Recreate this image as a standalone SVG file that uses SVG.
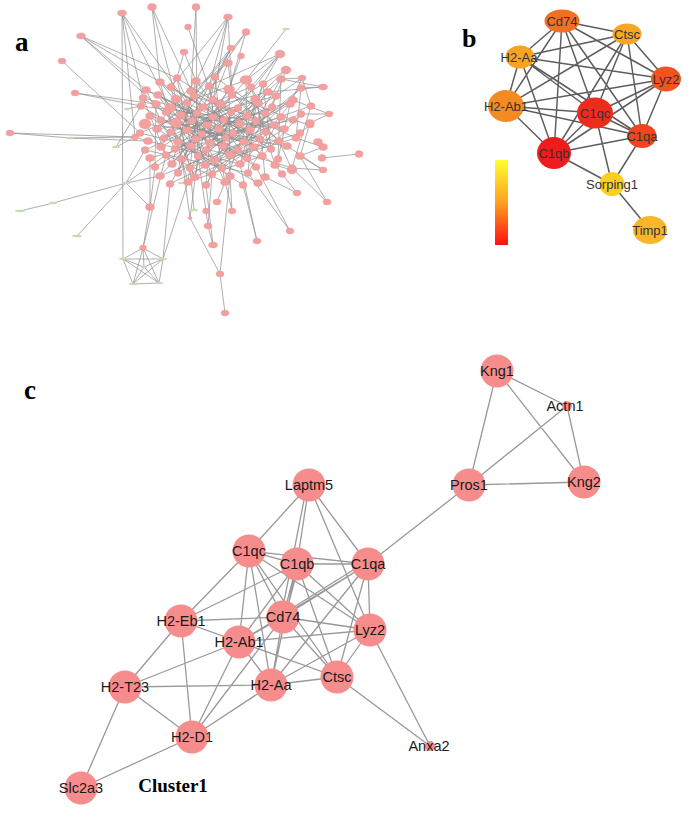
<svg xmlns="http://www.w3.org/2000/svg" width="690" height="818" viewBox="0 0 690 818">
<style>
.pl{font-family:"Liberation Serif","Times New Roman",serif;font-weight:bold;fill:#000}
.ae{fill:none;stroke:#8c8c8c;stroke-width:0.7}
.an{fill:#f3a0a0;stroke:#e88;stroke-width:0.3}
.ag{fill:#bfe0b0}
.be{fill:none;stroke:#5e5e5e;stroke-width:1.5}
.bt{font-family:"Liberation Sans",Arial,sans-serif;font-size:13px;fill:#333;text-anchor:middle}
.ce{fill:none;stroke:#999;stroke-width:1.3}
.cn{fill:#f78c8c}
.ct{font-family:"Liberation Sans",Arial,sans-serif;font-size:14.5px;fill:#1a1a1a;text-anchor:middle}
</style>
<defs>
<linearGradient id="bar" x1="0" y1="0" x2="0" y2="1">
<stop offset="0" stop-color="#ffff30"/>
<stop offset="0.5" stop-color="#ffa020"/>
<stop offset="1" stop-color="#ff1010"/>
</linearGradient>
</defs>
<rect width="690" height="818" fill="#fff"/>

<text class="pl" x="15" y="51" font-size="27">a</text>
<text class="pl" x="462" y="47" font-size="26">b</text>
<text class="pl" x="24" y="399" font-size="27">c</text>

<!-- Panel a -->
<g id="panel-a">
<g id="a-edges">
<path class="ae" d="M160 82L192 121M160 82L226 138M160 82L203 107M177 78L202 134M177 78L191 146M177 78L231 112M196 81L198 156M196 81L244 142M196 81L161 120M196 81L172 164M215 77L171 132M215 77L223 146M215 77L265 113M215 77L195 177M246 80L196 139M246 80L247 158M246 80L274 125M246 80L170 108M263 84L187 130M263 84L240 164M263 84L271 149M281 79L210 143M281 79L256 121M281 79L278 159M146 90L233 133M146 90L197 113M146 90L175 149M171 87L260 139M171 87L190 168M171 87L224 120M191 91L254 147M191 91L178 173M191 91L266 132M209 86L178 142M209 86L222 168M209 86L293 120M209 86L157 129M229 89L182 159M229 89L279 141M229 89L230 176M251 87L206 150M251 87L140 133M251 87L275 165M268 92L226 138M268 92L214 160M268 92L181 115M301 88L250 130M301 88L238 150M301 88L296 138M143 98L210 143M143 98L166 155M143 98L240 124M158 95L223 146M158 95L205 165M158 95L219 129M176 99L244 142M176 99L230 155M176 99L212 174M194 96L161 147M194 96L256 167M194 96L284 129M213 100L164 138M213 100L262 156M213 100L206 185M232 95L175 149M232 95L172 164M232 95L279 141M255 99L171 132M255 99L198 156M255 99L248 173M276 96L191 146M276 96L240 164M276 96L176 123M293 100L226 138M293 100L247 158M293 100L202 134M141 106L256 121M141 106L196 139M156 104L238 150M156 104L155 167M170 108L214 160M170 108L250 130M187 103L205 165M187 103L260 139M203 107L271 149M203 107L178 173M221 104L182 159M221 104L296 138M238 108L190 168M238 108L145 150M258 103L166 155M258 103L265 177M272 107L178 142M272 107L222 168M290 104L206 150M290 104L278 159M311 106L233 133M311 106L292 168M150 116L244 142M150 116L198 156M166 112L254 147M166 112L195 177M181 115L240 164M181 115L284 129M197 113L230 155M197 113L188 182M213 117L161 147M213 117L275 165M231 112L164 138M231 112L212 174M247 116L182 159M247 116L287 146M265 113L157 129M265 113L205 165M281 117L210 143M281 117L248 173M301 114L223 146M301 114L262 156M145 124L279 141M145 124L172 164M161 120L247 158M176 123L271 149M192 121L256 167M207 125L160 176M224 120L166 155M240 124L190 168M256 121L175 149M274 125L214 160M293 120L196 139M310 123L300 156M140 133L230 155M157 129L222 168M171 132L230 176M187 130L287 146M202 134L225 182M219 129L155 167M233 133L178 173M250 130L150 158M266 132L190 168M284 129L212 174M300 133L230 155M148 141L240 164M178 142L243 185M210 143L292 168M244 142L160 176M260 139L170 184M296 138L205 165M145 150L248 173M191 146L258 183M254 147L195 177M166 155L225 182M262 156L188 182M160 82L188 182M263 84L225 182M229 89L170 184M255 99L206 185M177 78L171 87M191 91L194 96M213 100L221 104M238 108L247 116M265 113L274 125M192 121L187 130M202 134L210 143M226 138L223 146M191 146L198 156M214 160L222 168M190 168L195 177M212 174L206 185"/>
<path class="ae" d="M122 13L143 98M122 13L170 108M122 13L187 103M122 13L135 137M122 13L123 259M152 7L176 99M152 7L194 96M152 7L160 82M196 7L191 91M196 7L197 113M228 17L196 81M228 17L232 95M228 17L209 86M228 17L213 100M228 17L171 87M188 27L213 100M246 32L215 77M246 32L229 89M246 32L194 96M286 29L246 80M81 36L177 78M81 36L160 82M81 36L176 123M81 36L146 90M62 61L140 133M184 52L177 78M184 52L196 81M231 48L203 107M231 48L215 77M231 48L187 103M241 56L229 89M228 63L213 100M228 63L191 91M228 63L232 95M280 54L246 80M280 54L263 84M280 54L238 108M280 54L251 87M280 54L209 86M286 70L263 84M286 70L255 99M286 70L272 107M302 78L281 79M302 78L290 104M302 78L276 96M302 78L311 106M323 87L281 79M323 87L268 92M323 87L301 88M75 93L141 106M75 93L156 104M329 114L310 123M329 114L301 114M329 114L293 100M10 133L70 138M10 133L135 137M70 138L135 137M70 138L148 141M310 125L293 120M310 125L300 133M359 154L322 158M323 147L318 142M323 147L296 138M323 147L300 156M323 170L292 168M323 170L300 156M323 170L287 146M292 170L279 141M292 170L275 165M297 193L275 165M297 193L265 177M327 202L300 156M327 202L292 168M290 231L256 167M290 231L248 173M257 241L243 185M257 241L240 164M213 245L206 185M213 245L208 226M208 226L206 211M208 226L212 174M206 211L198 156M217 202L225 182M232 211L230 176M232 211L222 168M220 274L225 313M220 274L190 218M220 274L230 176M150 207L150 158M150 207L143 248M150 207L155 167M150 207L126 183M126 183L53 203M126 183L160 176M126 183L145 150M126 183L166 155M53 203L20 211M77 236L126 183M143 248L163 259M143 248L123 259M143 248L144 267M143 248L159 283M143 248L133 284M143 248L166 155M123 259L163 259M123 259L144 267M123 259L133 284M123 259L159 283M163 259L144 267M163 259L159 283M163 259L133 284M144 267L133 284M144 267L159 283M133 284L159 283M190 218L182 159M190 218L198 156M194 210L190 168M116 147L141 106M116 147L135 137M127 109L141 106M135 137L148 141M135 137L140 133M170 184L163 259M188 182L163 259"/>
</g>
<g id="a-nodes">
<ellipse class="an" cx="122" cy="13" rx="4.5" ry="3"/><ellipse class="an" cx="152" cy="7" rx="4.5" ry="3.5"/><ellipse class="an" cx="196" cy="7" rx="4" ry="3.5"/><ellipse class="an" cx="228" cy="17" rx="4.5" ry="3"/><ellipse class="an" cx="188" cy="27" rx="3.5" ry="3"/><ellipse class="an" cx="246" cy="32" rx="4" ry="3.5"/><ellipse class="an" cx="81" cy="36" rx="4.5" ry="3"/><ellipse class="an" cx="62" cy="61" rx="4" ry="3"/><ellipse class="an" cx="184" cy="52" rx="4" ry="3"/><ellipse class="an" cx="231" cy="48" rx="4" ry="3"/><ellipse class="an" cx="241" cy="56" rx="3.5" ry="3"/><ellipse class="an" cx="228" cy="63" rx="4.5" ry="3.5"/><ellipse class="an" cx="280" cy="54" rx="5" ry="4"/><ellipse class="an" cx="286" cy="70" rx="5" ry="4"/><ellipse class="an" cx="302" cy="78" rx="4" ry="3"/><ellipse class="an" cx="323" cy="87" rx="4.5" ry="3"/><ellipse class="an" cx="75" cy="93" rx="4" ry="3"/><ellipse class="an" cx="329" cy="114" rx="4" ry="3"/><ellipse class="an" cx="10" cy="133" rx="4" ry="3"/><ellipse class="an" cx="310" cy="125" rx="4" ry="3"/><ellipse class="an" cx="359" cy="154" rx="4" ry="3.5"/><ellipse class="an" cx="323" cy="147" rx="4.5" ry="3.5"/><ellipse class="an" cx="323" cy="170" rx="4" ry="3"/><ellipse class="an" cx="292" cy="170" rx="5" ry="4"/><ellipse class="an" cx="297" cy="193" rx="4" ry="3"/><ellipse class="an" cx="327" cy="202" rx="4" ry="3"/><ellipse class="an" cx="290" cy="231" rx="4" ry="3"/><ellipse class="an" cx="257" cy="241" rx="4" ry="3"/><ellipse class="an" cx="213" cy="245" rx="4.5" ry="3"/><ellipse class="an" cx="208" cy="226" rx="4" ry="3"/><ellipse class="an" cx="206" cy="211" rx="3.5" ry="3"/><ellipse class="an" cx="217" cy="202" rx="4" ry="3"/><ellipse class="an" cx="232" cy="211" rx="4" ry="3"/><ellipse class="an" cx="220" cy="274" rx="4" ry="3"/><ellipse class="an" cx="225" cy="313" rx="4" ry="3"/><ellipse class="an" cx="150" cy="207" rx="4.5" ry="3.5"/><ellipse class="an" cx="143" cy="248" rx="3.5" ry="3"/><ellipse class="an" cx="135" cy="137" rx="3.5" ry="3"/><ellipse class="an" cx="190" cy="218" rx="2" ry="1.5"/>
<ellipse class="ag" cx="286" cy="29" rx="4" ry="1.2"/><ellipse class="ag" cx="70" cy="138" rx="4" ry="1.2"/><ellipse class="ag" cx="126" cy="183" rx="4" ry="1.2"/><ellipse class="ag" cx="53" cy="203" rx="4" ry="1.2"/><ellipse class="ag" cx="20" cy="211" rx="5" ry="1.2"/><ellipse class="ag" cx="77" cy="236" rx="5" ry="1.2"/><ellipse class="ag" cx="123" cy="259" rx="4" ry="1.2"/><ellipse class="ag" cx="163" cy="259" rx="4" ry="1.2"/><ellipse class="ag" cx="144" cy="267" rx="3" ry="1.2"/><ellipse class="ag" cx="133" cy="284" rx="4" ry="1.2"/><ellipse class="ag" cx="159" cy="283" rx="4" ry="1.2"/><ellipse class="ag" cx="194" cy="210" rx="4" ry="1.2"/><ellipse class="ag" cx="116" cy="147" rx="4" ry="1.2"/><ellipse class="ag" cx="127" cy="109" rx="3" ry="1.2"/><ellipse class="ag" cx="181" cy="183" rx="3" ry="1.2"/>
<ellipse class="an" cx="160" cy="82" rx="4.5" ry="3.5"/><ellipse class="an" cx="177" cy="78" rx="4" ry="3.5"/><ellipse class="an" cx="196" cy="81" rx="4.5" ry="3.5"/><ellipse class="an" cx="215" cy="77" rx="4" ry="3.5"/><ellipse class="an" cx="246" cy="80" rx="6" ry="4.5"/><ellipse class="an" cx="263" cy="84" rx="4" ry="3.5"/><ellipse class="an" cx="281" cy="79" rx="4.5" ry="3.5"/>
<ellipse class="an" cx="146" cy="90" rx="4.5" ry="3.5"/><ellipse class="an" cx="171" cy="87" rx="4" ry="3.5"/><ellipse class="an" cx="191" cy="91" rx="4.5" ry="3.5"/><ellipse class="an" cx="209" cy="86" rx="4" ry="3.5"/><ellipse class="an" cx="229" cy="89" rx="5.5" ry="4"/><ellipse class="an" cx="251" cy="87" rx="4" ry="3.5"/><ellipse class="an" cx="268" cy="92" rx="4.5" ry="3.5"/><ellipse class="an" cx="301" cy="88" rx="4" ry="3.5"/>
<ellipse class="an" cx="143" cy="98" rx="4" ry="3.5"/><ellipse class="an" cx="158" cy="95" rx="4.5" ry="3.5"/><ellipse class="an" cx="176" cy="99" rx="5" ry="4"/><ellipse class="an" cx="194" cy="96" rx="4" ry="3.5"/><ellipse class="an" cx="213" cy="100" rx="4.5" ry="3.5"/><ellipse class="an" cx="232" cy="95" rx="4" ry="3.5"/><ellipse class="an" cx="255" cy="99" rx="4.5" ry="3.5"/><ellipse class="an" cx="276" cy="96" rx="4" ry="3.5"/><ellipse class="an" cx="293" cy="100" rx="4.5" ry="3.5"/>
<ellipse class="an" cx="141" cy="106" rx="4" ry="3.5"/><ellipse class="an" cx="156" cy="104" rx="4.5" ry="3.5"/><ellipse class="an" cx="170" cy="108" rx="5.5" ry="4.5"/><ellipse class="an" cx="187" cy="103" rx="4" ry="3.5"/><ellipse class="an" cx="203" cy="107" rx="4.5" ry="3.5"/><ellipse class="an" cx="221" cy="104" rx="5" ry="4"/><ellipse class="an" cx="238" cy="108" rx="4" ry="3.5"/><ellipse class="an" cx="258" cy="103" rx="4.5" ry="3.5"/><ellipse class="an" cx="272" cy="107" rx="4" ry="3.5"/><ellipse class="an" cx="290" cy="104" rx="4.5" ry="3.5"/><ellipse class="an" cx="311" cy="106" rx="4" ry="3.5"/>
<ellipse class="an" cx="150" cy="116" rx="4.5" ry="3.5"/><ellipse class="an" cx="166" cy="112" rx="4" ry="3.5"/><ellipse class="an" cx="181" cy="115" rx="4.5" ry="3.5"/><ellipse class="an" cx="197" cy="113" rx="4" ry="3.5"/><ellipse class="an" cx="213" cy="117" rx="4.5" ry="3.5"/><ellipse class="an" cx="231" cy="112" rx="4" ry="3.5"/><ellipse class="an" cx="247" cy="116" rx="4.5" ry="3.5"/><ellipse class="an" cx="265" cy="113" rx="4" ry="3.5"/><ellipse class="an" cx="281" cy="117" rx="4.5" ry="3.5"/><ellipse class="an" cx="301" cy="114" rx="4" ry="3.5"/>
<ellipse class="an" cx="145" cy="124" rx="6" ry="5"/><ellipse class="an" cx="161" cy="120" rx="4" ry="3.5"/><ellipse class="an" cx="176" cy="123" rx="6" ry="5"/><ellipse class="an" cx="192" cy="121" rx="4" ry="3.5"/><ellipse class="an" cx="207" cy="125" rx="4.5" ry="3.5"/><ellipse class="an" cx="224" cy="120" rx="4" ry="3.5"/><ellipse class="an" cx="240" cy="124" rx="4.5" ry="3.5"/><ellipse class="an" cx="256" cy="121" rx="4" ry="3.5"/><ellipse class="an" cx="274" cy="125" rx="4.5" ry="3.5"/><ellipse class="an" cx="293" cy="120" rx="4" ry="3.5"/><ellipse class="an" cx="310" cy="123" rx="4.5" ry="3.5"/>
<ellipse class="an" cx="140" cy="133" rx="4" ry="3.5"/><ellipse class="an" cx="157" cy="129" rx="4.5" ry="3.5"/><ellipse class="an" cx="171" cy="132" rx="4" ry="3.5"/><ellipse class="an" cx="187" cy="130" rx="4.5" ry="3.5"/><ellipse class="an" cx="202" cy="134" rx="4" ry="3.5"/><ellipse class="an" cx="219" cy="129" rx="4.5" ry="3.5"/><ellipse class="an" cx="233" cy="133" rx="4" ry="3.5"/><ellipse class="an" cx="250" cy="130" rx="4.5" ry="3.5"/><ellipse class="an" cx="266" cy="132" rx="4" ry="3.5"/><ellipse class="an" cx="284" cy="129" rx="4.5" ry="3.5"/><ellipse class="an" cx="300" cy="133" rx="4" ry="3.5"/>
<ellipse class="an" cx="148" cy="141" rx="4.5" ry="3.5"/><ellipse class="an" cx="164" cy="138" rx="4" ry="3.5"/><ellipse class="an" cx="178" cy="142" rx="4.5" ry="3.5"/><ellipse class="an" cx="196" cy="139" rx="4" ry="3.5"/><ellipse class="an" cx="210" cy="143" rx="4.5" ry="3.5"/><ellipse class="an" cx="226" cy="138" rx="4" ry="3.5"/><ellipse class="an" cx="244" cy="142" rx="4.5" ry="3.5"/><ellipse class="an" cx="260" cy="139" rx="4" ry="3.5"/><ellipse class="an" cx="279" cy="141" rx="4.5" ry="3.5"/><ellipse class="an" cx="296" cy="138" rx="4" ry="3.5"/><ellipse class="an" cx="318" cy="142" rx="4.5" ry="3.5"/>
<ellipse class="an" cx="145" cy="150" rx="4" ry="3.5"/><ellipse class="an" cx="161" cy="147" rx="4.5" ry="3.5"/><ellipse class="an" cx="175" cy="149" rx="4" ry="3.5"/><ellipse class="an" cx="191" cy="146" rx="4.5" ry="3.5"/><ellipse class="an" cx="206" cy="150" rx="4" ry="3.5"/><ellipse class="an" cx="223" cy="146" rx="4.5" ry="3.5"/><ellipse class="an" cx="238" cy="150" rx="4" ry="3.5"/><ellipse class="an" cx="254" cy="147" rx="4.5" ry="3.5"/><ellipse class="an" cx="271" cy="149" rx="4" ry="3.5"/><ellipse class="an" cx="287" cy="146" rx="4.5" ry="3.5"/>
<ellipse class="an" cx="150" cy="158" rx="4.5" ry="3.5"/><ellipse class="an" cx="166" cy="155" rx="4" ry="3.5"/><ellipse class="an" cx="182" cy="159" rx="4.5" ry="3.5"/><ellipse class="an" cx="198" cy="156" rx="4" ry="3.5"/><ellipse class="an" cx="214" cy="160" rx="4.5" ry="3.5"/><ellipse class="an" cx="230" cy="155" rx="5" ry="4"/><ellipse class="an" cx="247" cy="158" rx="4" ry="3.5"/><ellipse class="an" cx="262" cy="156" rx="4.5" ry="3.5"/><ellipse class="an" cx="278" cy="159" rx="4" ry="3.5"/><ellipse class="an" cx="300" cy="156" rx="4.5" ry="3.5"/><ellipse class="an" cx="322" cy="158" rx="4" ry="3.5"/>
<ellipse class="an" cx="155" cy="167" rx="4" ry="3.5"/><ellipse class="an" cx="172" cy="164" rx="4.5" ry="3.5"/><ellipse class="an" cx="190" cy="168" rx="4" ry="3.5"/><ellipse class="an" cx="205" cy="165" rx="4.5" ry="3.5"/><ellipse class="an" cx="222" cy="168" rx="4" ry="3.5"/><ellipse class="an" cx="240" cy="164" rx="4.5" ry="3.5"/><ellipse class="an" cx="256" cy="167" rx="4" ry="3.5"/><ellipse class="an" cx="275" cy="165" rx="4.5" ry="3.5"/><ellipse class="an" cx="292" cy="168" rx="4" ry="3.5"/>
<ellipse class="an" cx="160" cy="176" rx="4.5" ry="3.5"/><ellipse class="an" cx="178" cy="173" rx="4" ry="3.5"/><ellipse class="an" cx="195" cy="177" rx="4.5" ry="3.5"/><ellipse class="an" cx="212" cy="174" rx="4" ry="3.5"/><ellipse class="an" cx="230" cy="176" rx="4.5" ry="3.5"/><ellipse class="an" cx="248" cy="173" rx="4" ry="3.5"/><ellipse class="an" cx="265" cy="177" rx="4.5" ry="3.5"/><ellipse class="an" cx="282" cy="174" rx="4" ry="3.5"/>
<ellipse class="an" cx="170" cy="184" rx="4" ry="3.5"/><ellipse class="an" cx="188" cy="182" rx="4.5" ry="3.5"/><ellipse class="an" cx="206" cy="185" rx="4" ry="3.5"/><ellipse class="an" cx="225" cy="182" rx="4.5" ry="3.5"/><ellipse class="an" cx="243" cy="185" rx="4" ry="3.5"/><ellipse class="an" cx="258" cy="183" rx="4.5" ry="3.5"/>
</g>
</g>

<!-- Panel b -->
<g id="panel-b">
<rect id="b-colorbar" x="495" y="160" width="13" height="85" fill="url(#bar)"/>
<g id="b-edges">
<path class="be" d="M562 21L627 34M562 21L520 57M562 21L666 79M562 21L506 106M562 21L595 113M562 21L642 136M562 21L554 153M627 34L520 57M627 34L666 79M627 34L506 106M627 34L595 113M627 34L642 136M627 34L554 153M520 57L666 79M520 57L506 106M520 57L595 113M520 57L642 136M520 57L554 153M666 79L506 106M666 79L595 113M666 79L642 136M666 79L554 153M506 106L595 113M506 106L642 136M506 106L554 153M595 113L642 136M595 113L554 153M642 136L554 153M612 184L595 113M612 184L642 136M612 184L554 153M612 184L650 230"/>
</g>
<g id="b-Cd74"><ellipse cx="562" cy="21" rx="17.5" ry="11.5" fill="#f27022"/><text class="bt" x="562" y="25.5">Cd74</text></g>
<g id="b-Ctsc"><ellipse cx="627" cy="34" rx="14.5" ry="10.5" fill="#f8a626"/><text class="bt" x="627" y="38.5">Ctsc</text></g>
<g id="b-H2-Aa"><ellipse cx="520" cy="57" rx="14.5" ry="11.5" fill="#f8a422"/><text class="bt" x="519" y="61.5">H2-Aa</text></g>
<g id="b-Lyz2"><ellipse cx="666" cy="79" rx="15" ry="12.5" fill="#f25420"/><text class="bt" x="666" y="83.5">Lyz2</text></g>
<g id="b-H2-Ab1"><ellipse cx="506" cy="106" rx="18" ry="16" fill="#f38a22"/><text class="bt" x="506" y="110.5">H2-Ab1</text></g>
<g id="b-C1qc"><ellipse cx="595" cy="113" rx="18" ry="15.5" fill="#ef2c1c"/><text class="bt" x="595" y="117.5">C1qc</text></g>
<g id="b-C1qa"><ellipse cx="642" cy="136" rx="14.5" ry="12" fill="#f2441e"/><text class="bt" x="642" y="140.5">C1qa</text></g>
<g id="b-C1qb"><ellipse cx="554" cy="153" rx="17" ry="16" fill="#ee1c1c"/><text class="bt" x="554" y="157.5">C1qb</text></g>
<g id="b-Sorping1"><ellipse cx="612" cy="184" rx="12.5" ry="12" fill="#fad020"/><text class="bt" x="612" y="188.5">Sorping1</text></g>
<g id="b-Timp1"><ellipse cx="650" cy="230" rx="17" ry="14" fill="#f7b728"/><text class="bt" x="650" y="234.5">Timp1</text></g>
</g>

<!-- Panel c -->
<g id="panel-c">
<g id="c-edges">
<path class="ce" d="M497 371L567 406M497 371L469 485M497 371L584 482M567 406L469 485M567 406L584 482M469 485L584 482M469 485L368 564
M309 485L249 551M309 485L297 564M307 485L281 617M309 485L368 564M309 485L370 630
M249 551L297 564M249 551L368 564M249 551L181 621M249 551L239 642M249 551L283 617M249 551L271 685M249 551L337 677M249 551L370 630
M297 564L368 564M297 564L181 621M297 564L283 617M299 564L285 617M297 564L239 642M297 564L271 685M297 564L337 677M297 564L370 630
M368 564L283 617M366 562L281 615M368 564L239 642M368 564L271 685M368 564L337 677M368 564L370 630
M283 617L181 621M283 617L239 642M283 617L271 685M283 617L337 677M283 617L370 630M283 617L192 737
M370 630L239 642M370 630L271 685M370 630L337 677M370 630L430 746
M181 621L239 642M181 621L125 687M181 621L192 737M181 621L337 677
M239 642L271 685M239 642L125 687M239 642L192 737M239 642L337 677
M271 685L337 677M271 685L125 687M271 685L192 737
M125 687L192 737M125 687L81 788M192 737L81 788M337 677L430 746"/>
</g>
<g id="c-Kng1"><circle class="cn" cx="497" cy="371" r="16.5"/><text class="ct" x="497" y="376">Kng1</text></g>
<g id="c-Actn1"><circle class="cn" cx="567" cy="406" r="5"/><text class="ct" x="565" y="411">Actn1</text></g>
<g id="c-Pros1"><circle class="cn" cx="469" cy="485" r="16.5"/><text class="ct" x="469" y="490">Pros1</text></g>
<g id="c-Kng2"><circle class="cn" cx="584" cy="482" r="16.5"/><text class="ct" x="584" y="487">Kng2</text></g>
<g id="c-Laptm5"><circle class="cn" cx="309" cy="485" r="16.5"/><text class="ct" x="309" y="490">Laptm5</text></g>
<g id="c-C1qc"><circle class="cn" cx="249" cy="551" r="16.5"/><text class="ct" x="249" y="556">C1qc</text></g>
<g id="c-C1qb"><circle class="cn" cx="297" cy="564" r="16.5"/><text class="ct" x="297" y="569">C1qb</text></g>
<g id="c-C1qa"><circle class="cn" cx="368" cy="564" r="16.5"/><text class="ct" x="368" y="569">C1qa</text></g>
<g id="c-H2-Eb1"><circle class="cn" cx="181" cy="621" r="16.5"/><text class="ct" x="181" y="626">H2-Eb1</text></g>
<g id="c-Cd74"><circle class="cn" cx="283" cy="617" r="16.5"/><text class="ct" x="283" y="622">Cd74</text></g>
<g id="c-Lyz2"><circle class="cn" cx="370" cy="630" r="16.5"/><text class="ct" x="370" y="635">Lyz2</text></g>
<g id="c-H2-Ab1"><circle class="cn" cx="239" cy="642" r="16.5"/><text class="ct" x="239" y="647">H2-Ab1</text></g>
<g id="c-H2-Aa"><circle class="cn" cx="271" cy="685" r="16.5"/><text class="ct" x="271" y="690">H2-Aa</text></g>
<g id="c-Ctsc"><circle class="cn" cx="337" cy="677" r="16.5"/><text class="ct" x="337" y="682">Ctsc</text></g>
<g id="c-H2-T23"><circle class="cn" cx="125" cy="687" r="16.5"/><text class="ct" x="125" y="692">H2-T23</text></g>
<g id="c-H2-D1"><circle class="cn" cx="192" cy="737" r="16.5"/><text class="ct" x="192" y="742">H2-D1</text></g>
<g id="c-Slc2a3"><circle class="cn" cx="81" cy="788" r="16.5"/><text class="ct" x="81" y="793">Slc2a3</text></g>
<g id="c-Anxa2"><circle class="cn" cx="430" cy="746" r="5"/><text class="ct" x="429" y="751">Anxa2</text></g>
<text class="pl" x="173" y="792" font-size="19" text-anchor="middle">Cluster1</text>
</g>
</svg>
